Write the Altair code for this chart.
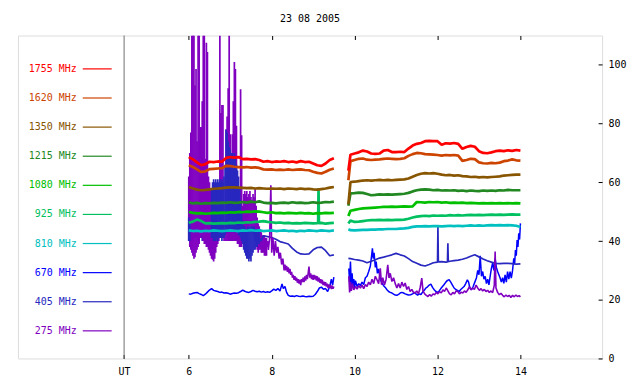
import altair as alt
import pandas as pd

FONT = "DejaVu Sans Mono"
TITLE = "23 08 2005"
FREQS = ["1755 MHz", "1620 MHz", "1350 MHz", "1215 MHz", "1080 MHz",
         "925 MHz", "810 MHz", "670 MHz", "405 MHz", "275 MHz"]
COLORS = ["#ff0000", "#cc4400", "#885500", "#228822", "#00c000",
          "#00c060", "#00c0c0", "#0000ff", "#2828c0", "#8000c0"]
X_TICKS = [6, 8, 10, 12, 14]
Y_TICKS = [0, 20, 40, 60, 80, 100]
UT_HOUR = 4.44
X_DOMAIN = [1.88, 15.97]
Y_DOMAIN = [0, 110]

# time grids (UT hours) for the smoother channels
T1 = [6.0, 6.1, 6.2, 6.3, 6.4, 6.5, 6.6, 6.7, 6.8, 6.9,
      7.0, 7.1, 7.2, 7.3, 7.4, 7.5, 7.6, 7.7, 7.8, 7.9,
      8.0, 8.1, 8.2, 8.3, 8.4, 8.5, 8.6, 8.7, 8.8, 8.9,
      9.0, 9.1, 9.2, 9.3, 9.4, 9.5]
T2 = [9.85, 9.9,
      10.0, 10.1, 10.2, 10.3, 10.4, 10.5, 10.6, 10.7, 10.8, 10.9,
      11.0, 11.1, 11.2, 11.3, 11.4, 11.5, 11.6, 11.7, 11.8, 11.9,
      12.0, 12.1, 12.2, 12.3, 12.4, 12.5, 12.6, 12.7, 12.8, 12.9,
      13.0, 13.1, 13.2, 13.3, 13.4, 13.5, 13.6, 13.7, 13.8, 13.9,
      14.0]

F1755_A = [68.6, 67.8, 66.8, 65.8, 66.2, 67.0, 66.9, 67.1, 67.0, 68.3,
           68.6, 68.4, 68.6, 67.9, 68.0, 67.8, 67.9, 67.6, 67.0, 67.2,
           66.9, 67.1, 67.0, 67.2, 66.9, 67.1, 66.8, 67.2, 66.9, 67.0,
           66.4, 65.8, 65.6, 66.4, 67.6, 68.2]
F1755_B = [64.0, 69.4,
           69.8, 70.2, 70.8, 70.5, 69.8, 69.7, 69.8, 70.8, 71.0, 70.3,
           70.3, 70.4, 70.3, 71.5, 72.5, 73.1, 73.4, 74.0, 74.1, 74.0,
           74.0, 72.8, 73.3, 73.2, 73.4, 73.1, 71.4, 72.0, 72.4, 72.1,
           70.6, 70.0, 69.9, 70.2, 70.6, 70.8, 70.6, 70.9, 70.7, 71.0,
           70.8]
F1620_A = [65.8, 65.2, 64.4, 63.5, 63.7, 64.5, 64.6, 64.7, 64.8, 65.6,
           65.5, 65.3, 65.2, 65.1, 65.2, 65.0, 65.1, 64.9, 64.4, 64.3,
           64.4, 64.2, 64.3, 64.2, 64.4, 64.2, 64.3, 64.4, 64.2, 64.1,
           63.6, 63.2, 63.0, 63.6, 64.3, 64.7]
F1620_B = [60.7, 67.2,
           67.6, 68.0, 68.1, 67.7, 67.6, 67.7, 67.8, 68.0, 68.1, 68.0,
           67.9, 68.0, 68.2, 69.0, 69.6, 70.0, 69.9, 69.6, 69.5, 69.4,
           69.3, 69.1, 69.3, 69.2, 69.3, 69.1, 67.3, 67.6, 68.0, 67.9,
           66.8, 66.5, 66.4, 66.6, 66.5, 66.7, 67.2, 67.4, 67.8, 67.5,
           67.4]
F1350_A = [58.4, 57.9, 57.5, 57.3, 57.4, 57.6, 57.8, 57.9, 58.0, 58.2,
           58.3, 58.3, 58.2, 58.1, 58.0, 58.1, 57.9, 58.0, 57.9, 57.8,
           57.9, 57.8, 57.9, 57.7, 57.9, 57.8, 57.7, 57.9, 57.7, 57.8,
           57.6, 57.5, 57.7, 57.9, 58.2, 58.4]
F1350_B = [52.5, 60.1,
           60.2, 60.4, 60.6, 60.7, 60.6, 60.7, 60.8, 60.7, 60.8, 60.7,
           60.8, 60.9, 61.0, 61.3, 61.9, 62.5, 62.9, 63.1, 63.0, 63.1,
           62.9, 62.6, 62.4, 62.5, 62.3, 62.4, 62.1, 62.0, 61.8, 61.9,
           61.7, 61.8, 61.7, 61.8, 61.9, 62.0, 62.3, 62.4, 62.5, 62.6,
           62.6]
F1215_A = [53.2, 52.8, 53.0, 52.7, 52.9, 52.8, 53.0, 52.9, 53.1, 53.0,
           53.2, 53.0, 53.1, 53.3, 53.1, 53.4, 53.2, 53.5, 53.1, 52.9,
           53.0, 52.8, 53.0, 53.1, 52.9, 53.2, 53.0, 53.1, 52.9, 53.0,
           53.2, 53.0, 53.1, 53.3, 53.2, 53.4]
F1215_B = [52.0, 56.2,
           56.3, 56.5, 56.4, 56.0, 55.6, 55.7, 55.9, 55.8, 55.9, 55.8,
           55.9, 56.0, 56.1, 56.4, 56.9, 57.3, 57.5, 57.6, 57.5, 57.3,
           57.4, 57.2, 57.3, 57.2, 57.3, 57.1, 57.2, 57.0, 57.2, 57.1,
           57.0, 57.2, 57.1, 57.2, 57.1, 57.3, 57.2, 57.4, 57.3, 57.3,
           57.3]
F1080_A = [49.9, 49.6, 49.4, 49.5, 49.3, 49.4, 49.6, 49.5, 49.7, 49.6,
           49.8, 49.7, 49.9, 49.8, 50.0, 49.9, 50.1, 50.0, 49.8, 49.6,
           49.8, 49.5, 49.6, 49.4, 49.6, 49.5, 49.4, 49.6, 49.4, 49.5,
           49.3, 49.5, 49.4, 49.6, 49.5, 49.6]
F1080_B = [48.5, 50.3,
           50.6, 50.9, 51.1, 51.2, 51.3, 51.4, 51.5, 51.6, 51.6, 51.7,
           51.6, 51.7, 51.8, 51.7, 51.8, 53.3, 53.2, 53.1, 53.3, 53.2,
           53.3, 53.1, 53.2, 53.0, 53.1, 53.0, 53.1, 52.9, 53.0, 52.9,
           52.8, 52.9, 52.8, 52.9, 52.8, 52.9, 52.8, 52.9, 52.8, 52.9,
           52.8]
F925_A = [46.2, 46.6, 47.3, 46.8, 46.0, 46.1, 45.9, 46.0, 46.1, 46.0,
          46.2, 46.1, 46.3, 46.2, 46.4, 46.3, 46.5, 46.6, 46.8, 46.5,
          46.4, 46.2, 46.3, 46.1, 46.2, 46.0, 46.1, 46.0, 46.2, 46.1,
          46.0, 46.1, 46.2, 45.9, 46.1, 46.2]
F925_SPIKE = [[9.12, 46.1], [9.13, 58.0], [9.14, 46.1]]
F925_B = [46.0, 47.0,
          46.5, 46.6, 46.8, 47.0, 47.1, 47.1, 47.2, 47.1, 47.2, 47.1,
          47.2, 47.2, 47.3, 47.6, 48.0, 48.3, 48.5, 48.6, 48.5, 48.7,
          48.6, 48.7, 48.6, 48.8, 48.7, 48.8, 48.7, 48.8, 48.9, 48.8,
          48.9, 48.8, 48.9, 49.0, 48.9, 49.0, 48.9, 49.0, 49.1, 49.0,
          49.0]
F810_A = [43.6, 43.4, 43.5, 43.3, 43.5, 43.4, 43.6, 43.5, 43.4, 43.5,
          43.6, 43.5, 43.4, 43.6, 43.5, 43.7, 43.5, 43.6, 43.4, 43.5,
          43.6, 43.4, 43.5, 43.6, 43.4, 43.5, 43.3, 43.5, 43.4, 43.6,
          43.5, 43.4, 43.6, 43.5, 43.4, 43.6]
F810_B = [44.0, 43.7,
          43.6, 43.7, 43.8, 43.8, 43.9, 43.9, 44.0, 44.0, 44.1, 44.1,
          44.1, 44.2, 44.3, 44.5, 44.8, 45.0, 45.0, 45.1, 45.0, 45.1,
          45.1, 45.0, 45.1, 45.2, 45.1, 45.2, 45.1, 45.2, 45.3, 45.2,
          45.3, 45.2, 45.3, 45.4, 45.3, 45.4, 45.3, 45.4, 45.3, 45.2,
          44.8]

# 670 MHz  [hour, value]
F670_A = [[6.00, 22.0], [6.05, 21.9], [6.10, 22.2], [6.15, 22.4], [6.20, 22.5],
          [6.25, 22.1], [6.30, 21.8], [6.35, 21.4], [6.40, 21.9], [6.45, 22.6],
          [6.50, 23.3], [6.55, 23.8], [6.60, 23.2], [6.65, 23.0], [6.70, 22.8],
          [6.75, 22.5], [6.80, 22.6], [6.85, 22.3], [6.90, 22.4], [6.95, 22.2],
          [7.00, 21.9], [7.05, 22.1], [7.10, 22.3], [7.15, 22.2], [7.20, 22.4],
          [7.25, 22.8], [7.30, 23.3], [7.35, 22.9], [7.40, 22.6], [7.45, 22.5],
          [7.50, 22.8], [7.55, 23.2], [7.60, 22.9], [7.65, 22.7], [7.70, 22.9],
          [7.75, 22.6], [7.80, 22.8], [7.85, 22.5], [7.90, 22.7], [7.95, 22.5],
          [8.00, 23.0], [8.05, 23.6], [8.10, 23.2], [8.15, 23.8], [8.20, 23.0],
          [8.25, 25.4], [8.28, 23.8], [8.32, 24.5], [8.36, 22.5], [8.40, 21.5],
          [8.45, 21.2], [8.50, 21.3], [8.55, 21.1], [8.60, 21.4], [8.65, 21.2],
          [8.70, 21.1], [8.75, 21.3], [8.80, 21.1], [8.85, 21.0], [8.90, 21.2],
          [8.95, 21.1], [9.00, 21.2], [9.05, 21.8], [9.10, 22.8], [9.15, 24.0],
          [9.20, 24.3], [9.25, 23.6], [9.30, 23.8], [9.35, 22.8], [9.40, 24.5],
          [9.44, 27.0], [9.47, 25.0], [9.50, 27.7]]
F670_B = [[9.86, 30.7], [9.88, 26.0], [9.90, 33.0], [9.92, 25.0], [9.94, 29.0],
          [9.96, 24.5], [9.98, 27.0], [10.00, 24.0], [10.02, 26.5], [10.06, 24.5],
          [10.10, 25.5], [10.14, 24.8], [10.18, 26.0], [10.22, 25.2], [10.26, 27.5],
          [10.30, 28.0], [10.34, 29.6], [10.38, 31.5], [10.41, 35.0], [10.43, 37.5],
          [10.45, 34.0], [10.47, 36.0], [10.50, 31.0], [10.52, 33.0], [10.55, 29.0],
          [10.58, 30.5], [10.62, 27.0], [10.66, 25.7], [10.70, 24.8], [10.74, 24.2],
          [10.78, 23.4], [10.82, 22.8], [10.86, 22.5], [10.90, 22.3], [10.94, 21.9],
          [10.98, 21.6], [11.02, 21.5], [11.06, 21.8], [11.10, 22.3], [11.14, 22.5],
          [11.18, 22.3], [11.22, 22.0], [11.26, 21.8], [11.30, 21.6], [11.35, 21.7],
          [11.40, 22.0], [11.44, 22.5], [11.48, 22.0], [11.52, 21.6], [11.56, 22.0],
          [11.60, 21.8], [11.64, 22.6], [11.68, 23.2], [11.72, 24.0], [11.76, 24.4],
          [11.80, 25.0], [11.84, 25.3], [11.88, 24.2], [11.92, 23.4], [11.96, 22.8],
          [12.00, 22.5], [12.04, 23.0], [12.08, 23.8], [12.12, 24.5], [12.16, 25.2],
          [12.20, 26.0], [12.24, 26.6], [12.28, 26.8], [12.32, 26.0], [12.36, 25.0],
          [12.40, 24.0], [12.44, 23.5], [12.48, 23.2], [12.52, 22.8], [12.56, 23.5],
          [12.60, 24.0], [12.64, 24.5], [12.68, 25.5], [12.72, 26.8], [12.75, 26.0],
          [12.78, 24.0], [12.82, 23.4], [12.86, 24.5], [12.90, 26.0], [12.94, 27.5],
          [12.97, 30.0], [13.00, 28.5], [13.03, 35.0], [13.06, 28.0], [13.09, 29.6],
          [13.12, 27.0], [13.15, 28.0], [13.18, 25.5], [13.21, 27.0], [13.24, 25.1],
          [13.27, 28.0], [13.30, 30.7], [13.33, 32.5], [13.36, 30.0], [13.39, 34.1],
          [13.42, 31.0], [13.45, 29.6], [13.48, 28.5], [13.51, 27.4], [13.54, 26.0],
          [13.57, 27.5], [13.60, 25.6], [13.63, 28.5], [13.66, 26.0], [13.69, 29.6],
          [13.72, 27.0], [13.75, 29.6], [13.78, 27.4], [13.81, 30.0], [13.84, 34.1],
          [13.86, 32.0], [13.88, 36.9], [13.90, 35.0], [13.92, 40.3], [13.94, 38.0],
          [13.96, 42.6], [13.98, 40.5], [14.00, 46.0]]

# 405 MHz burst envelope  [hour, low, high]
F405_ENV_UNDER = [[6.050, 40, 46], [6.075, 40, 46], [6.100, 40, 46], [6.125, 41, 47],
                  [6.150, 41, 47], [6.175, 41, 46], [6.200, 41, 46], [6.225, 40, 47],
                  [6.250, 40, 47], [6.275, 41, 46], [6.300, 41, 46], [6.325, 40, 47],
                  [6.350, 40, 47], [6.375, 41, 46], [6.400, 41, 46], [6.425, 40, 47],
                  [6.450, 40, 47], [6.475, 41, 46], [6.500, 41, 46], [6.525, 41, 47]]
F405_ENV_OVER = [[6.000, 40, 48], [6.025, 40, 46],
                 [6.550, 41, 58], [6.575, 41, 60], [6.600, 40, 61], [6.625, 40, 60],
                 [6.650, 40, 61], [6.675, 41, 60], [6.700, 40, 61], [6.725, 41, 60],
                 [6.750, 41, 61], [6.775, 41, 60], [6.800, 40, 61], [6.825, 41, 60],
                 [6.850, 41, 62], [6.875, 42, 66], [6.900, 43, 78], [6.925, 43, 77],
                 [6.950, 44, 74], [6.975, 44, 72], [7.000, 44, 71], [7.025, 44, 70],
                 [7.050, 44, 70], [7.075, 44, 69], [7.100, 44, 70], [7.125, 43, 68],
                 [7.150, 43, 66], [7.175, 43, 64], [7.200, 42, 62], [7.225, 42, 58],
                 [7.250, 41, 54], [7.275, 40, 50], [7.300, 39, 47], [7.325, 37, 45],
                 [7.350, 36, 45], [7.375, 35, 44], [7.400, 34, 44], [7.425, 34, 45],
                 [7.450, 33, 44], [7.475, 34, 45], [7.500, 33, 44], [7.525, 35, 45],
                 [7.550, 36, 44], [7.575, 37, 45], [7.600, 37, 44], [7.625, 38, 44],
                 [7.650, 38, 43], [7.675, 39, 43], [7.700, 39, 43]]
# 405 MHz after the burst  [hour, value]
F405_A = [[7.70, 41.0], [7.74, 40.0], [7.80, 41.8], [7.90, 41.5], [8.00, 41.2],
          [8.10, 40.6], [8.20, 39.8], [8.30, 39.4], [8.40, 39.0], [8.50, 37.5],
          [8.60, 36.3], [8.70, 35.6], [8.80, 35.5], [8.90, 35.6], [9.00, 37.0],
          [9.10, 37.8], [9.20, 37.9], [9.30, 36.7], [9.40, 35.0], [9.50, 35.3]]
F405_B = [34.1, 34.0,
          33.7, 33.5, 33.2, 32.6, 33.1, 33.6, 34.2, 34.5, 34.9, 35.3,
          35.8, 35.3, 34.9, 34.0, 33.0, 32.4, 31.8, 31.5, 32.0, 32.6,
          32.8, 33.0, 32.8, 33.1, 33.3, 33.5, 33.8, 34.2, 34.8, 35.3,
          34.6, 33.9, 33.3, 32.8, 32.4, 32.3, 32.4, 32.4, 32.3, 32.1,
          32.2]
F405_SPIKES = [[12.00, 32.8], [12.01, 44.8], [12.02, 32.9],
               [12.24, 32.9], [12.25, 39.2], [12.26, 33.0]]

# 275 MHz burst envelope  [hour, low, high]
F275_ENV = [[6.000, 40, 62], [6.025, 38, 70], [6.050, 37, 77], [6.075, 36, 110],
            [6.100, 35, 110], [6.125, 34, 110], [6.150, 34.5, 93], [6.175, 36, 98.6],
            [6.200, 37, 74], [6.225, 38, 110], [6.250, 39, 110], [6.275, 41, 78.8],
            [6.300, 42, 78.8], [6.325, 41, 87.6], [6.350, 40, 110], [6.375, 39, 110],
            [6.400, 39, 68], [6.425, 38, 107.5], [6.450, 38, 104.4], [6.475, 37, 62],
            [6.500, 36, 60], [6.525, 35, 58], [6.550, 34, 56], [6.575, 33.6, 52],
            [6.600, 33, 50], [6.625, 34, 48], [6.650, 36, 46], [6.675, 38, 45],
            [6.700, 39, 44], [6.725, 40, 44], [6.750, 41, 110], [6.775, 41, 83.6],
            [6.800, 41, 86.3], [6.825, 41, 86.3], [6.850, 40, 44], [6.875, 40, 43],
            [6.900, 40, 78], [6.925, 40, 82.4], [6.950, 40, 92], [6.975, 40, 110],
            [7.000, 40, 76.4], [7.025, 40, 44], [7.050, 40, 76.4], [7.075, 40, 87.6],
            [7.100, 40, 101], [7.125, 40, 98.6], [7.150, 40, 79.3], [7.175, 39, 44],
            [7.200, 39, 43], [7.225, 38, 44], [7.250, 38, 91.7], [7.275, 38, 76],
            [7.300, 42, 52], [7.325, 43, 56], [7.350, 44, 57], [7.375, 43, 56],
            [7.400, 44, 57], [7.425, 43, 55], [7.450, 44, 56], [7.475, 45, 57],
            [7.500, 44, 55], [7.525, 43, 54], [7.550, 43, 56], [7.575, 42, 55],
            [7.600, 40, 58], [7.625, 38, 52], [7.650, 37, 48], [7.675, 36, 46],
            [7.700, 37, 45], [7.725, 37, 44], [7.750, 36, 43], [7.775, 36, 42],
            [7.800, 36, 42], [7.825, 35, 42], [7.850, 35, 41], [7.875, 35, 41]]
# 275 MHz after the burst  [hour, value]
F275_A = [[7.875, 38], [7.90, 40], [7.92, 37], [7.95, 41], [7.98, 59], [8.00, 36],
          [8.03, 41], [8.06, 35], [8.09, 40], [8.12, 36], [8.15, 38], [8.18, 34],
          [8.21, 36], [8.24, 32], [8.27, 34], [8.30, 30], [8.32, 32], [8.34, 30],
          [8.36, 31.5], [8.38, 29.5], [8.40, 31], [8.42, 29], [8.44, 30.5], [8.46, 28.5],
          [8.48, 29.5], [8.50, 27.5], [8.52, 28.5], [8.54, 26.8], [8.56, 28], [8.58, 26.5],
          [8.60, 27.5], [8.62, 25.8], [8.64, 27], [8.66, 25.5], [8.68, 26.8], [8.70, 25],
          [8.72, 27], [8.74, 26], [8.76, 27.5], [8.78, 26], [8.80, 28], [8.82, 26.5],
          [8.84, 28.5], [8.86, 27], [8.88, 29], [8.90, 31.3], [8.92, 27.5], [8.94, 29],
          [8.96, 27], [8.98, 28.5], [9.00, 26.8], [9.02, 28.5], [9.04, 27], [9.06, 28.2],
          [9.08, 26.5], [9.10, 28], [9.12, 26.2], [9.14, 27.5], [9.16, 25.8], [9.18, 27],
          [9.20, 25.5], [9.22, 26.8], [9.24, 25], [9.26, 26.2], [9.28, 24.8], [9.30, 26],
          [9.32, 24.5], [9.34, 25.5], [9.36, 24], [9.38, 25.2], [9.40, 24], [9.42, 25],
          [9.44, 23.6], [9.46, 24.8], [9.48, 23.8], [9.50, 24.5]]
F275_B = [[9.86, 28.0], [9.88, 22.5], [9.90, 26.0], [9.92, 23.0], [9.95, 25.5],
          [9.98, 23.4], [10.02, 24.5], [10.06, 23.6], [10.10, 24.8], [10.14, 24.0],
          [10.18, 25.0], [10.22, 23.8], [10.26, 25.2], [10.30, 24.5], [10.34, 26.0],
          [10.38, 25.1], [10.42, 27.0], [10.46, 25.5], [10.50, 28.0], [10.54, 26.8],
          [10.58, 25.5], [10.62, 30.7], [10.65, 25.1], [10.68, 27.5], [10.72, 25.0],
          [10.76, 27.0], [10.80, 31.9], [10.83, 27.4], [10.86, 29.0], [10.90, 26.2],
          [10.94, 27.5], [10.98, 25.5], [11.02, 24.0], [11.06, 25.5], [11.10, 24.0],
          [11.14, 26.0], [11.18, 24.5], [11.22, 25.7], [11.26, 23.5], [11.30, 24.5],
          [11.34, 22.8], [11.38, 23.5], [11.42, 22.5], [11.46, 22.3], [11.50, 23.0],
          [11.54, 22.0], [11.58, 24.0], [11.62, 27.4], [11.65, 23.0], [11.69, 22.0],
          [11.73, 21.5], [11.77, 21.1], [11.81, 21.8], [11.85, 21.2], [11.89, 22.0],
          [11.93, 21.7], [11.97, 22.5], [12.01, 22.0], [12.05, 22.8], [12.09, 22.3],
          [12.13, 23.4], [12.17, 22.8], [12.21, 24.0], [12.25, 23.0], [12.29, 22.0],
          [12.33, 21.7], [12.37, 22.5], [12.41, 22.0], [12.45, 23.0], [12.49, 22.8],
          [12.53, 22.0], [12.57, 22.6], [12.61, 22.3], [12.65, 23.0], [12.69, 22.5],
          [12.73, 23.4], [12.77, 24.5], [12.81, 23.4], [12.85, 24.0], [12.89, 23.5],
          [12.93, 25.0], [12.97, 24.0], [13.01, 23.2], [13.05, 23.8], [13.09, 23.0],
          [13.13, 23.5], [13.17, 22.8], [13.21, 23.2], [13.25, 22.5], [13.29, 23.0],
          [13.33, 22.4], [13.37, 25.0], [13.39, 36.4], [13.41, 24.0], [13.45, 22.5],
          [13.49, 21.7], [13.53, 22.2], [13.57, 21.5], [13.61, 21.0], [13.65, 21.6],
          [13.69, 21.1], [13.73, 21.5], [13.77, 20.8], [13.81, 21.5], [13.85, 21.0],
          [13.89, 21.6], [13.93, 21.1], [13.97, 21.4], [14.00, 21.0]]

rows = []


def add(freq, seg, ts, vs):
    for t, v in zip(ts, vs):
        rows.append({"freq": freq, "seg": seg, "t": t, "v": v})


def add_pairs(freq, seg, pairs):
    add(freq, seg, [p[0] for p in pairs], [p[1] for p in pairs])


add("1755 MHz", "a", T1, F1755_A)
add("1755 MHz", "b", T2, F1755_B)
add("1620 MHz", "a", T1, F1620_A)
add("1620 MHz", "b", T2, F1620_B)
add("1350 MHz", "a", T1, F1350_A)
add("1350 MHz", "b", T2, F1350_B)
add("1215 MHz", "a", T1, F1215_A)
add("1215 MHz", "b", T2, F1215_B)
add("1080 MHz", "a", T1, F1080_A)
add("1080 MHz", "b", T2, F1080_B)
add("925 MHz", "a", T1, F925_A)
add_pairs("925 MHz", "a", F925_SPIKE)
add("925 MHz", "b", T2, F925_B)
add("810 MHz", "a", T1, F810_A)
add("810 MHz", "b", T2, F810_B)
add_pairs("670 MHz", "a", F670_A)
add_pairs("670 MHz", "b", F670_B)
add_pairs("405 MHz", "a", F405_A)
add("405 MHz", "b", T2, F405_B)
add_pairs("405 MHz", "b", F405_SPIKES)
add_pairs("275 MHz", "a", F275_A)
add_pairs("275 MHz", "b", F275_B)
df = pd.DataFrame(rows).sort_values(["freq", "seg", "t"]).reset_index(drop=True)


def env_df(freq, trips):
    return pd.DataFrame([{"freq": freq, "t": t, "lo": lo, "hi": hi} for t, lo, hi in trips])


env405_under = env_df("405 MHz", F405_ENV_UNDER)
env405_over = env_df("405 MHz", F405_ENV_OVER)
env275 = env_df("275 MHz", F275_ENV)

x_scale = alt.Scale(domain=X_DOMAIN, nice=False, zero=False)
y_scale = alt.Scale(domain=Y_DOMAIN, nice=False, zero=True)
color_scale = alt.Scale(domain=FREQS, range=COLORS)

x_axis = alt.Axis(values=[UT_HOUR] + X_TICKS, orient="bottom", offset=-4, tickSize=4,
                  domain=False, grid=False, title=None, labelFont=FONT, labelFontSize=10,
                  labelColor="black", tickColor="black", labelPadding=8, minExtent=0,
                  labelExpr="datum.value < 5 ? 'UT' : datum.label")
y_axis = alt.Axis(values=Y_TICKS, orient="right", offset=-4, tickSize=4, domain=False,
                  grid=False, title=None, labelFont=FONT, labelFontSize=10,
                  labelColor="black", tickColor="black", labelPadding=6, minExtent=0)

legend = alt.Legend(orient="none", legendX=28, legendY=18, title=None, direction="vertical",
                    symbolType="stroke", symbolSize=841, symbolStrokeWidth=1.2,
                    symbolOffset=36, labelAlign="right", labelOffset=alt.ExprRef("-36"),
                    labelFont=FONT, labelFontSize=10,
                    labelLimit=300, rowPadding=8.2, padding=0,
                    labelColor=alt.ExprRef("scale('color', datum.value)"))


def line_layer(freq, width):
    sub = df[df["freq"] == freq]
    return alt.Chart(sub).mark_line(strokeWidth=width, clip=True, strokeJoin="bevel").encode(
        x=alt.X("t:Q", scale=x_scale, axis=x_axis),
        y=alt.Y("v:Q", scale=y_scale, axis=y_axis),
        color=alt.Color("freq:N", scale=color_scale, legend=legend),
        detail="seg:N",
        order="t:Q",
    )


def env_layer(edf):
    # one vertical column per sample, from the low to the high value
    return alt.Chart(edf).mark_rule(strokeWidth=1.7, clip=True).encode(
        x=alt.X("t:Q", scale=x_scale, axis=x_axis),
        y=alt.Y("hi:Q", scale=y_scale, axis=y_axis),
        y2="lo:Q",
        color=alt.Color("freq:N", scale=color_scale, legend=None),
    )


layers = [
    line_layer("670 MHz", 1.5),
    env_layer(env405_under),
    env_layer(env275),
    env_layer(env405_over),
    line_layer("405 MHz", 1.7),
    line_layer("275 MHz", 1.6),
    line_layer("810 MHz", 2.7),
    line_layer("925 MHz", 2.7),
    line_layer("1080 MHz", 2.7),
    line_layer("1215 MHz", 2.7),
    line_layer("1350 MHz", 2.7),
    line_layer("1620 MHz", 2.7),
    line_layer("1755 MHz", 2.7),
]
lines = alt.layer(*layers)

ut_df = pd.DataFrame({"t": [UT_HOUR]})
ut_rule = alt.Chart(ut_df).mark_rule(color="#707070", strokeWidth=1).encode(
    x=alt.X("t:Q", scale=x_scale,
            axis=alt.Axis(orient="top", values=X_TICKS, labels=False, offset=-4, tickSize=4,
                          domain=False, grid=False, title=None, tickColor="black", minExtent=0))
)

chart = alt.layer(ut_rule, lines).resolve_axis(x="independent").properties(
    width=586, height=324,
    padding={"left": 10, "top": 27, "right": 30, "bottom": 17},
    autosize=alt.AutoSizeParams(type="none"),
    title=alt.TitleParams(text=TITLE, font=FONT, fontSize=10, fontWeight="normal",
                          color="black", anchor="middle", offset=11),
).configure_view(stroke="black", strokeWidth=1).configure(background="white")

chart.save("out.html", embed_options={"renderer": "svg", "actions": False})
